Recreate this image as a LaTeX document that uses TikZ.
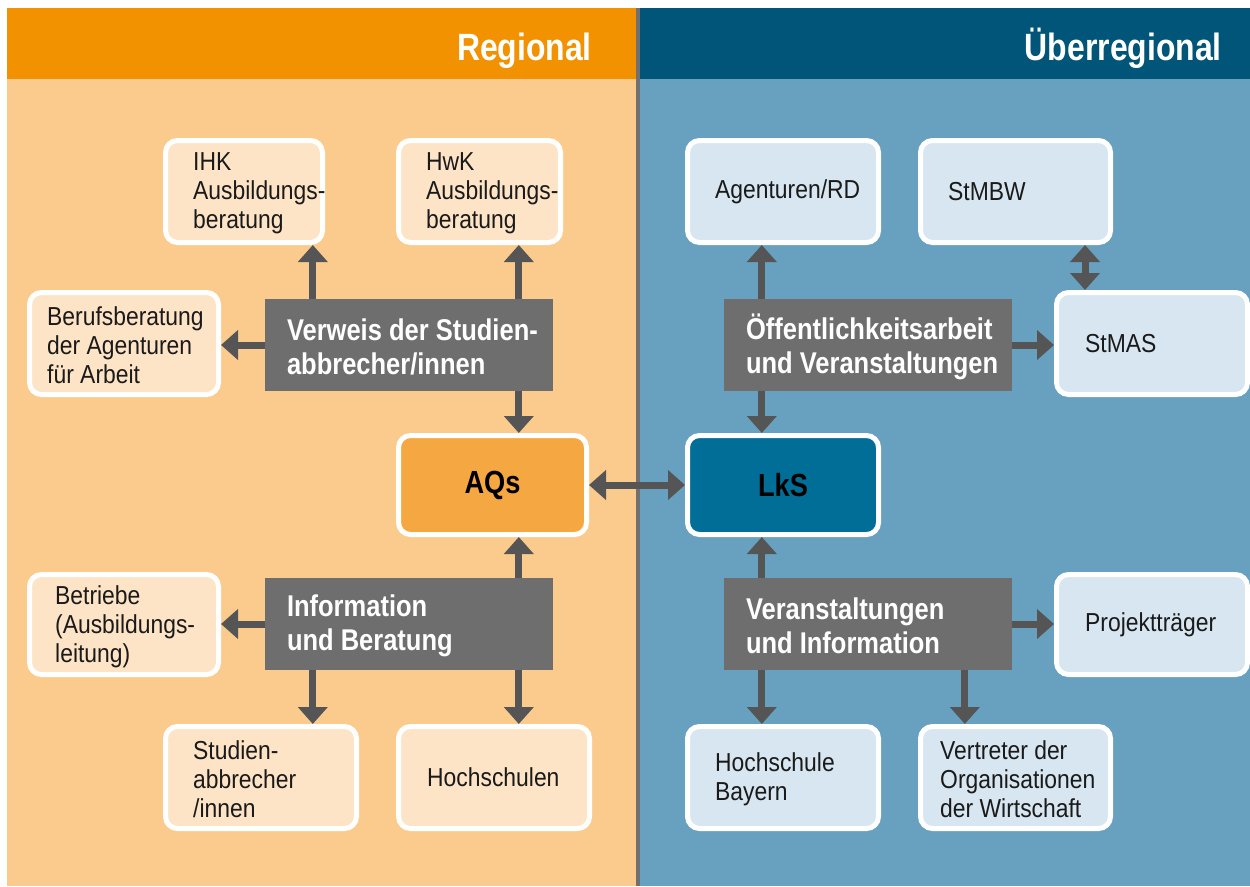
\documentclass[tikz,border=0pt]{standalone}
\usepackage{fontspec}
\setmainfont{Liberation Sans}[FakeStretch=0.88]
\newfontfamily\bfcond{Liberation Sans}[FakeStretch=0.85]
\newfontfamily\hdcond{Liberation Sans}[FakeStretch=0.84]
\usetikzlibrary{arrows.meta,calc}
\definecolor{hdor}{HTML}{F29200}
\definecolor{bgor}{HTML}{FBCB8E}
\definecolor{boxor}{HTML}{FDE4C6}
\definecolor{hdbl}{HTML}{005578}
\definecolor{bgbl}{HTML}{68A1C0}
\definecolor{boxbl}{HTML}{D7E6F0}
\definecolor{aqsc}{HTML}{F5A841}
\definecolor{lksc}{HTML}{006E96}
\definecolor{grbox}{HTML}{6E6E6E}
\definecolor{arrc}{HTML}{555555}
\definecolor{sepc}{HTML}{707070}
\definecolor{txtc}{HTML}{1A1A1A}
\tikzset{
  wbox/.style={draw=white, line width=5pt, rounded corners=12pt, inner sep=0pt},
  obox/.style={wbox, fill=boxor},
  bbox/.style={wbox, fill=boxbl},
  gbox/.style={fill=grbox, inner sep=0pt, minimum width=288pt, minimum height=92pt},
  btxt/.style={anchor=west, inner sep=0pt, align=left, text=txtc, font=\fontsize{26}{29}\selectfont},
  gtxt/.style={anchor=west, inner sep=0pt, align=left, text=white, font=\bfcond\bfseries\fontsize{30}{34}\selectfont},
  htxt/.style={anchor=base east, inner sep=0pt, text=white, font=\hdcond\bfseries\fontsize{38}{40}\selectfont},
  arr/.style={draw=arrc, line width=7pt, -{Triangle[width=29pt,length=17pt]}},
  darr/.style={draw=arrc, line width=7pt, {Triangle[width=29pt,length=17pt]}-{Triangle[width=29pt,length=17pt]}}
}
\begin{document}
\begin{tikzpicture}[x=1pt,y=-1pt]
\useasboundingbox (0,0) rectangle (1250,886);
\fill[white] (0,0) rectangle (1250,886);
% backgrounds
\fill[bgor] (7,78) rectangle (637,886);
\fill[hdor] (7,8) rectangle (637,79);
\fill[bgbl] (639,78) rectangle (1250,886);
\fill[hdbl] (639,8) rectangle (1250,79);
\fill[sepc] (636,8) rectangle (640,886);
\node[htxt] (reg) at (592,60) {Regional};
\node[htxt] (ueb) at (1222,60) {Überregional};
% left boxes
\node[obox, minimum width=157pt, minimum height=102pt] (ihk) at (244,191.5) {};
\node[btxt] (ihkt) at ([xshift=30pt,yshift=-2pt]ihk.west) {IHK\\Ausbildungs-\\beratung};
\node[obox, minimum width=162pt, minimum height=102pt] (hwk) at (479.5,191.5) {};
\node[btxt] (hwkt) at ([xshift=30pt,yshift=-2pt]hwk.west) {HwK\\Ausbildungs-\\beratung};
\node[obox, minimum width=189pt, minimum height=102pt] (beruf) at (124,343.5) {};
\node[btxt] (beruft) at ([xshift=20pt,yshift=-2pt]beruf.west) {Berufsberatung\\der Agenturen\\für Arbeit};
\node[obox, minimum width=189pt, minimum height=100pt] (betr) at (124,624.5) {};
\node[btxt] (betrt) at ([xshift=28pt,yshift=-2pt]betr.west) {Betriebe\\(Ausbildungs-\\leitung)};
\node[obox, minimum width=191pt, minimum height=102pt] (stud) at (261,777.5) {};
\node[btxt] (studt) at ([xshift=30pt,yshift=-2pt]stud.west) {Studien-\\abbrecher\\/innen};
\node[obox, minimum width=191pt, minimum height=102pt] (hoch) at (494,777.5) {};
\node[btxt] (hocht) at ([xshift=31pt]hoch.west) {Hochschulen};
\node[wbox, fill=aqsc, minimum width=188pt, minimum height=99pt, font=\bfcond\bfseries\fontsize{32}{34}\selectfont, text=black] (aqs) at (492.5,485) {AQs};
% right boxes
\node[wbox, fill=lksc, minimum width=191pt, minimum height=99pt, font=\bfcond\bfseries\fontsize{32}{34}\selectfont, text=black] (lks) at (783,485) {LkS};
\node[bbox, minimum width=191pt, minimum height=102pt] (agen) at (783,191.5) {};
\node[btxt] (agent) at ([xshift=30pt]agen.west) {Agenturen/RD};
\node[bbox, minimum width=190pt, minimum height=102pt] (stmbw) at (1015.5,191.5) {};
\node[btxt] (stmbwt) at ([xshift=30pt]stmbw.west) {StMBW};
\node[bbox, minimum width=191pt, minimum height=102pt] (stmas) at (1152,343.5) {};
\node[btxt] (stmast) at ([xshift=31pt]stmas.west) {StMAS};
\node[bbox, minimum width=191pt, minimum height=100pt] (proj) at (1152,624.5) {};
\node[btxt] (projt) at ([xshift=31pt]proj.west) {Projektträger};
\node[bbox, minimum width=191pt, minimum height=102pt] (hbay) at (783,777.5) {};
\node[btxt] (hbayt) at ([xshift=30pt,yshift=-2pt]hbay.west) {Hochschule\\Bayern};
\node[bbox, minimum width=190pt, minimum height=102pt] (vert) at (1015.5,777.5) {};
\node[btxt] (vertt) at ([xshift=22pt,yshift=-2pt]vert.west) {Vertreter der\\Organisationen\\der Wirtschaft};
% gray boxes
\node[gbox] (verweis) at (409,345) {};
\node[gtxt] (verweist) at ([xshift=22pt,yshift=-2pt]verweis.west) {Verweis der Studien-\\abbrecher/innen};
\node[gbox] (info) at (409,624) {};
\node[gtxt] (infot) at ([xshift=22pt,yshift=-2pt]info.west) {Information\\und Beratung};
\node[gbox] (oeff) at (868,345) {};
\node[gtxt] (oefft) at ([xshift=22pt,yshift=-2pt]oeff.west) {Öffentlichkeitsarbeit\\und Veranstaltungen};
\node[gbox] (vera) at (868,624) {};
\node[gtxt] (verat) at ([xshift=22pt,yshift=-2pt]vera.west) {Veranstaltungen\\und Information};
% connectors left
\coordinate (a1) at ([xshift=48pt]verweis.north west);
\coordinate (a2) at ([xshift=254pt]verweis.north west);
\coordinate (a3) at ([xshift=254pt]verweis.south west);
\draw[arr] (a1) -- (a1 |- ihk.south);
\draw[arr] (a2) -- (a2 |- hwk.south);
\draw[arr] (verweis.west) -- (verweis.west -| beruf.east);
\draw[arr] (a3) -- (a3 |- aqs.north);
\coordinate (b1) at ([xshift=254pt]info.north west);
\coordinate (b2) at ([xshift=48pt]info.south west);
\coordinate (b3) at ([xshift=254pt]info.south west);
\draw[arr] (b1) -- (b1 |- aqs.south);
\draw[arr] (info.west) -- (info.west -| betr.east);
\draw[arr] (b2) -- (b2 |- stud.north);
\draw[arr] (b3) -- (b3 |- hoch.north);
\draw[darr] (aqs.east) -- (lks.west);
% connectors right
\coordinate (c1) at ([xshift=38pt]oeff.north west);
\coordinate (c2) at ([xshift=38pt]oeff.south west);
\draw[arr] (c1) -- (c1 |- agen.south);
\draw[arr] (oeff.east) -- (oeff.east -| stmas.west);
\draw[arr] (c2) -- (c2 |- lks.north);
\coordinate (d1) at ([xshift=167pt]stmbw.south west);
\draw[darr] (d1) -- (d1 |- stmas.north);
\coordinate (e1) at ([xshift=38pt]vera.north west);
\coordinate (e2) at ([xshift=38pt]vera.south west);
\coordinate (e3) at ([xshift=241pt]vera.south west);
\draw[arr] (e1) -- (e1 |- lks.south);
\draw[arr] (vera.east) -- (vera.east -| proj.west);
\draw[arr] (e2) -- (e2 |- hbay.north);
\draw[arr] (e3) -- (e3 |- vert.north);
\end{tikzpicture}
\end{document}
